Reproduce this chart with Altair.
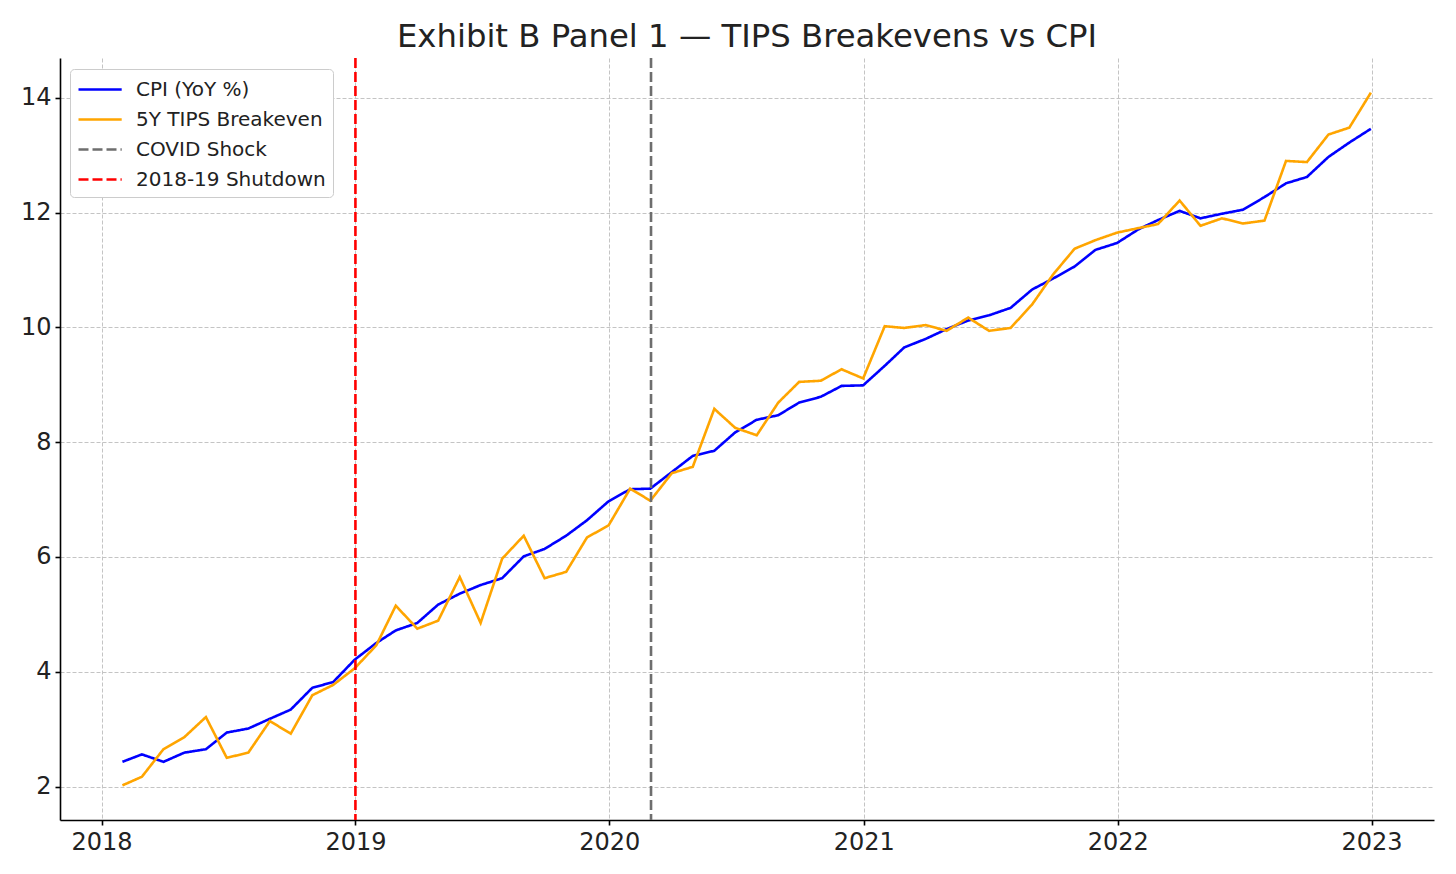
import altair as alt
import pandas as pd

# ---- data ----
dates = pd.date_range("2018-01-31", periods=60, freq="ME").strftime("%Y-%m-%d").tolist()

cpi = [2.43, 2.56, 2.43, 2.59, 2.65, 2.94, 3.01, 3.18, 3.34, 3.72, 3.82, 4.21,
       4.50, 4.72, 4.85, 5.17, 5.36, 5.51, 5.63, 6.01, 6.14, 6.37, 6.64, 6.97,
       7.18, 7.19, 7.48, 7.76, 7.85, 8.17, 8.39, 8.47, 8.69, 8.79, 8.98, 8.99,
       9.33, 9.65, 9.80, 9.97, 10.12, 10.21, 10.34, 10.66, 10.85, 11.06, 11.35, 11.47,
       11.71, 11.87, 12.03, 11.90, 11.98, 12.05, 12.27, 12.51, 12.62, 12.97, 13.22, 13.46]

tips = [2.02, 2.17, 2.65, 2.86, 3.21, 2.50, 2.59, 3.14, 2.92, 3.59, 3.77, 4.06,
        4.46, 5.15, 4.75, 4.89, 5.65, 4.85, 5.97, 6.37, 5.63, 5.74, 6.34, 6.55,
        7.19, 6.98, 7.46, 7.57, 8.58, 8.25, 8.12, 8.69, 9.05, 9.07, 9.27, 9.11,
        10.02, 9.99, 10.04, 9.94, 10.17, 9.94, 9.99, 10.40, 10.92, 11.37, 11.52, 11.65,
        11.73, 11.80, 12.21, 11.77, 11.90, 11.81, 11.86, 12.90, 12.88, 13.36, 13.48, 14.09]

series_names = ["CPI (YoY %)", "5Y TIPS Breakeven", "COVID Shock", "2018-19 Shutdown"]
series_colors = ["#0000ff", "#ffa500", "#6e6e6e", "#ff0000"]
series_dash = [[1, 0], [1, 0], [10, 4], [10, 4]]

event_names = ["COVID Shock", "2018-19 Shutdown"]
event_dates = ["2020-03-01", "2019-01-01"]

year_ticks = [2018, 2019, 2020, 2021, 2022, 2023]
y_ticks = [2, 4, 6, 8, 10, 12, 14]
y_domain = [1.4165, 14.6935]

cpi_df = pd.DataFrame({"date": dates, "value": cpi, "series": series_names[0]})
tips_df = pd.DataFrame({"date": dates, "value": tips, "series": series_names[1]})
event_df = pd.DataFrame({"date": event_dates, "series": event_names})

FONT = "DejaVu Sans"

legend = alt.Legend(
    orient="none", legendX=10, legendY=11,
    symbolType="M-1,0H2.6", symbolSize=576, symbolStrokeWidth=2.6,
    labelFont=FONT, labelFontSize=20, labelColor="#222222", labelOffset=32,
    labelLimit=0, rowPadding=6, padding=7,
    fillColor="white", strokeColor="#cccccc", cornerRadius=4,
)

color = alt.Color("series:N", title=None,
                  scale=alt.Scale(domain=series_names, range=series_colors),
                  legend=legend)
dash = alt.StrokeDash("series:N", title=None,
                      scale=alt.Scale(domain=series_names, range=series_dash),
                      legend=legend)

x_enc = alt.X(
    "date:T", title=None,
    scale=alt.Scale(type="utc", domain=[
        alt.DateTime(year=2017, month=11, date=2, hours=6, utc=True),
        alt.DateTime(year=2023, month=3, date=31, hours=18, utc=True)]),
    axis=alt.Axis(values=[alt.DateTime(year=y, month=1, date=1, utc=True) for y in year_ticks],
                  labelExpr="utcFormat(datum.value, '%Y')", labelPadding=5),
)
y_enc = alt.Y("value:Q", title=None,
              scale=alt.Scale(domain=y_domain, nice=False, zero=False),
              axis=alt.Axis(values=y_ticks, format="d", labelPadding=4))

cpi_line = alt.Chart(cpi_df).mark_line(strokeWidth=2.6).encode(
    x=x_enc, y=y_enc, color=color, strokeDash=dash)
tips_line = alt.Chart(tips_df).mark_line(strokeWidth=2.6).encode(
    x=x_enc, y=y_enc, color=color, strokeDash=dash)
rules = alt.Chart(event_df).mark_rule(strokeWidth=2.6).encode(
    x=x_enc, color=color, strokeDash=dash)

chart = alt.layer(cpi_line, tips_line, rules).properties(
    width=1374, height=762,
    autosize=alt.AutoSizeParams(type="none"),
    padding={"left": 52, "top": 50, "right": 14, "bottom": 40},
    title=alt.TitleParams(
        text="Exhibit B Panel 1 — TIPS Breakevens vs CPI",
        font=FONT, fontSize=32.3, fontWeight="normal", color="#222222",
        anchor="middle", offset=3),
).configure_axis(
    labelFont=FONT, labelFontSize=24, labelColor="#222222",
    domainColor="black", domainWidth=1.6,
    tickColor="black", tickWidth=1.6, tickSize=5, labelPadding=3,
    grid=True, gridColor="#c4c4c4", gridDash=[4, 2], gridWidth=1,
).configure_view(strokeWidth=0)

chart.save("out.html", embed_options={"renderer": "svg", "actions": False})
